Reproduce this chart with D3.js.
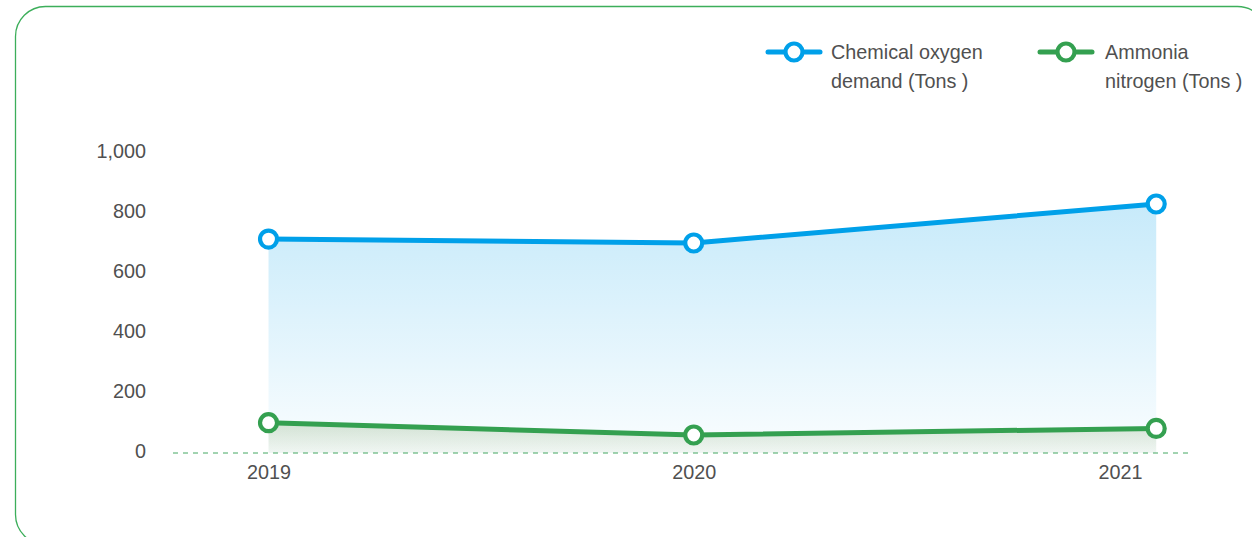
<!DOCTYPE html>
<html>
<head>
<meta charset="utf-8">
<script src="https://cdn.jsdelivr.net/npm/d3@7"></script>
<style>
  html, body { margin: 0; padding: 0; background: #fff; }
  svg { display: block; font-family: "Liberation Sans", Arial, sans-serif; }
</style>
</head>
<body>
<svg id="chart" width="1252" height="537"></svg>
<script>
// Reporting dates of each observation
const dates = ["2019-01-01", "2020-01-01", "2021-02-01"];
// Emissions, tons
const codValues = [713, 700, 830];
const ammoniaValues = [101, 60, 82];
// Axis labels
const yearTicks = ["2019", "2020", "2021"];
const yTicks = [0, 200, 400, 600, 800, 1000];
const seriesNames = [["Chemical oxygen", "demand (Tons )"], ["Ammonia", "nitrogen (Tons )"]];

const parse = d3.timeParse("%Y-%m-%d");
const svg = d3.select("#chart");

const blue = "#00a0e9";
const green = "#34a050";
const textColor = "#505050";
const fontSize = "19.8px";

// Card frame
svg.append("rect")
  .attr("x", 15.5).attr("y", 6.5)
  .attr("width", 1252).attr("height", 538)
  .attr("rx", 30).attr("ry", 30)
  .attr("fill", "#fff")
  .attr("stroke", "#3cae5a").attr("stroke-width", 1.3);

const x = d3.scaleTime()
  .domain([parse("2018-10-11"), parse("2021-03-02")])
  .range([173, 1190]);
const y = d3.scaleLinear().domain([0, 1000]).range([453, 153]);

const defs = svg.append("defs");
function grad(id, stops) {
  const g = defs.append("linearGradient").attr("id", id)
    .attr("x1", 0).attr("y1", 0).attr("x2", 0).attr("y2", 1);
  stops.forEach(s => g.append("stop").attr("offset", s[0]).attr("stop-color", s[1]).attr("stop-opacity", s[2]));
}
grad("gBlue", [[0, blue, 0.22], [1, blue, 0.02]]);
grad("gGreen", [[0, "#5a8a3c", 0.22], [1, "#5a8a3c", 0.06]]);

const series = [
  { values: codValues, color: blue, fill: "url(#gBlue)" },
  { values: ammoniaValues, color: green, fill: "url(#gGreen)" }
];

// Y axis labels
const yAxis = d3.axisLeft(y).tickValues(yTicks).tickSize(0).tickPadding(0)
  .tickFormat(d3.format(","));
const gy = svg.append("g").attr("transform", "translate(146,-2)").call(yAxis);
gy.select(".domain").remove();
gy.selectAll("text").attr("fill", textColor).style("font-size", fontSize)
  .style("font-family", "Liberation Sans, Arial, sans-serif");

// Baseline
svg.append("line")
  .attr("x1", x.range()[0]).attr("x2", x.range()[1])
  .attr("y1", y(0)).attr("y2", y(0))
  .attr("stroke", "#45a862").attr("stroke-width", 1)
  .attr("stroke-dasharray", "5,5");

// X axis labels
const xAxis = d3.axisBottom(x).tickValues(yearTicks.map(t => parse(t + "-01-01")))
  .tickSize(0).tickPadding(0).tickFormat(d3.timeFormat("%Y"));
const gx = svg.append("g").attr("transform", `translate(0,${y(0) + 12})`).call(xAxis);
gx.select(".domain").remove();
gx.selectAll("text").attr("fill", textColor).style("font-size", fontSize)
  .style("font-family", "Liberation Sans, Arial, sans-serif");

// Areas
series.forEach(s => {
  const pts = dates.map((d, i) => ({ d: parse(d), v: s.values[i] }));
  const area = d3.area().x(p => x(p.d)).y0(y(0)).y1(p => y(p.v));
  svg.append("path").datum(pts).attr("d", area).attr("fill", s.fill);
});

// Lines and markers
series.forEach(s => {
  const pts = dates.map((d, i) => ({ d: parse(d), v: s.values[i] }));
  const line = d3.line().x(p => x(p.d)).y(p => y(p.v));
  svg.append("path").datum(pts).attr("d", line)
    .attr("fill", "none").attr("stroke", s.color).attr("stroke-width", 5)
    .attr("stroke-linejoin", "round");
  svg.selectAll(null).data(pts).enter().append("circle")
    .attr("cx", p => x(p.d)).attr("cy", p => y(p.v)).attr("r", 8.5)
    .attr("fill", "#fff").attr("stroke", s.color).attr("stroke-width", 4.2);
});

// Legend
const legendX = [768, 1040];
const legendTextX = [63, 65];
series.forEach((s, i) => {
  const g = svg.append("g").attr("transform", `translate(${legendX[i]},52)`);
  g.append("line").attr("x1", 0).attr("x2", 52).attr("y1", 0).attr("y2", 0)
    .attr("stroke", s.color).attr("stroke-width", 5).attr("stroke-linecap", "round");
  g.append("circle").attr("cx", 26).attr("cy", 0).attr("r", 8.5)
    .attr("fill", "#fff").attr("stroke", s.color).attr("stroke-width", 4.2);
  const t = g.append("text").attr("x", legendTextX[i]).attr("y", 6.5)
    .attr("fill", textColor).style("font-size", fontSize);
  seriesNames[i].forEach((ln, j) => {
    t.append("tspan").attr("x", legendTextX[i]).attr("dy", j === 0 ? 0 : 29).text(ln);
  });
});
</script>
</body>
</html>
